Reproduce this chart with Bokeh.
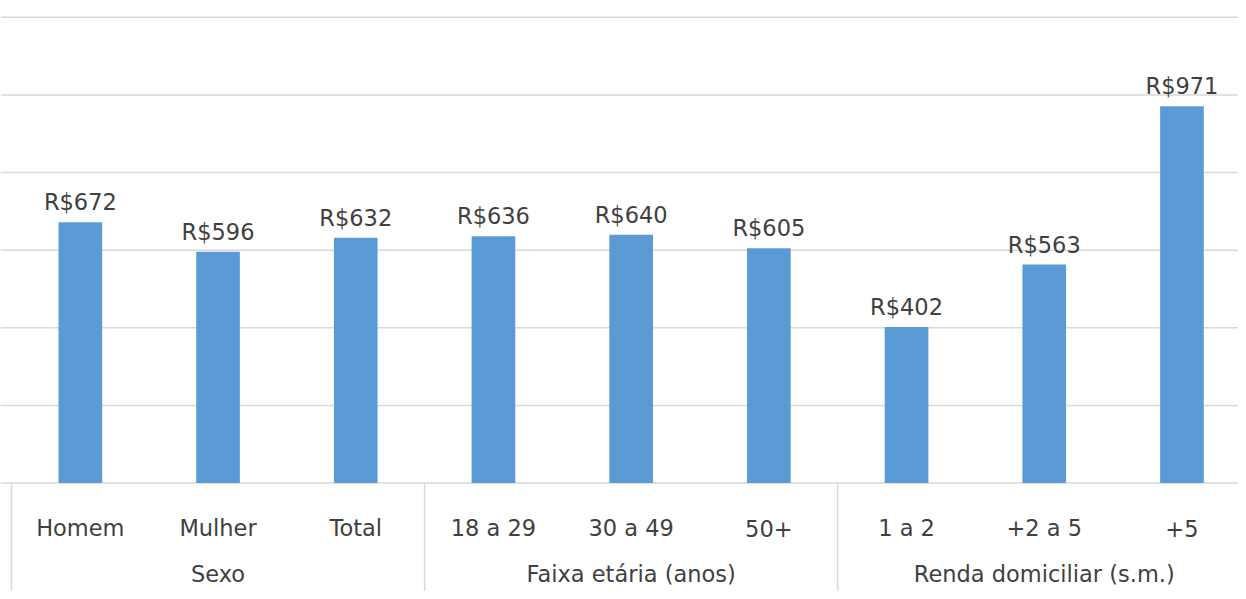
import numpy as np
from bokeh.plotting import figure
from bokeh.models import Range1d, Span, ColumnDataSource
from bokeh.core.properties import value
from bokeh.embed import file_html
from bokeh.resources import INLINE

# ---- data ----
categories = ["Homem", "Mulher", "Total", "18 a 29", "30 a 49", "50+", "1 a 2", "+2 a 5", "+5"]
values = [672, 596, 632, 636, 640, 605, 402, 563, 971]
groups = ["Sexo", "Faixa etária (anos)", "Renda domiciliar (s.m.)"]
group_sizes = [3, 3, 3]
grid_values = [0, 200, 400, 600, 800, 1000, 1200]

# ---- layout constants ----
W, H = 1238, 591
px_x = 137.7          # pixels per category
x0_px = 11            # pixel offset of first category boundary
y_top_px = 16.8       # pixel of top gridline
y_base_px = 482.5     # pixel of baseline
px_y = (y_base_px - y_top_px) / (grid_values[-1] - grid_values[0])

x_range = Range1d(-x0_px / px_x, (W - x0_px) / px_x)
y_range = Range1d(-(H - y_base_px) / px_y, grid_values[-1] + y_top_px / px_y)

p = figure(width=W, height=H, x_range=x_range, y_range=y_range,
           output_backend="svg", toolbar_location=None,
           x_axis_location=None, y_axis_location=None,
           min_border=0, min_border_left=0, min_border_right=0,
           min_border_top=0, min_border_bottom=0)
p.outline_line_color = None
p.background_fill_color = "white"
p.border_fill_color = "white"
p.xgrid.visible = False
p.ygrid.visible = False

grid_color = "#d9d9d9"
for g in grid_values:
    p.add_layout(Span(location=g, dimension="width", line_color=grid_color,
                      line_width=1.5, level="underlay"))

centers = np.arange(len(categories)) + 0.5
labels = ["R$" + str(v) for v in values]
src = ColumnDataSource(dict(x=centers, top=values, lab=labels, cat=categories))

p.vbar(x="x", top="top", bottom=0, width=0.317, source=src,
       fill_color="#5b9bd5", line_color=None)

font = value("DejaVu Sans")
tcol = "#404040"
fsize = "22.5px"
p.text(x="x", y="top", text="lab", source=src, text_align="center",
       text_baseline="alphabetic", y_offset=-20, text_font=font,
       text_font_size=fsize, text_color=tcol)

p.text(x="x", y=0, text="cat", source=src, text_align="center",
       text_baseline="alphabetic", y_offset=45, text_font=font,
       text_font_size=fsize, text_color=tcol)

bounds = np.concatenate([[0], np.cumsum(group_sizes)])
gcenters = bounds[:-1] + np.array(group_sizes) / 2
p.text(x=gcenters, y=[0] * len(groups), text=groups, text_align="center",
       text_baseline="alphabetic", y_offset=91, text_font=font,
       text_font_size=fsize, text_color=tcol)

p.segment(x0=bounds, y0=[0] * len(bounds), x1=bounds, y1=[y_range.start] * len(bounds),
          line_color=grid_color, line_width=1.5)

open("out.html", "w").write(file_html(p, INLINE))
